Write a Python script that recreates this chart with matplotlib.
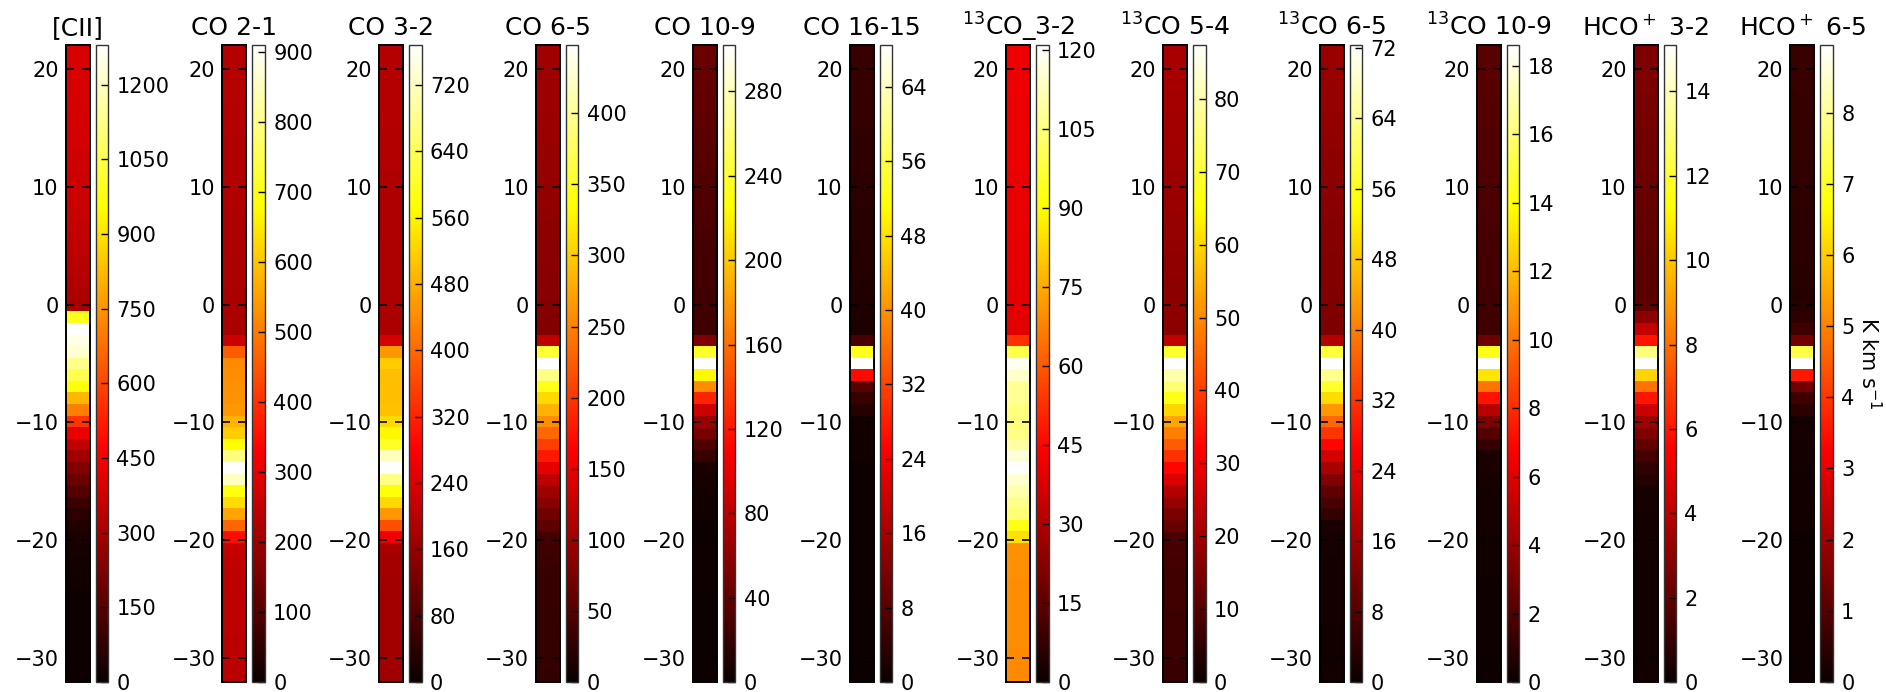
import numpy as np
import matplotlib
matplotlib.use('Agg')
import matplotlib.pyplot as plt
from matplotlib.ticker import MultipleLocator

# --- Data: integrated intensity per velocity channel (top = +22 km/s, bottom = -32 km/s) ---
VELOCITY = np.arange(22, -33, -1)

LINES = ['[CII]', 'CO 2-1', 'CO 3-2', 'CO 6-5', 'CO 10-9', 'CO 16-15',
         '$^{13}$CO_3-2', '$^{13}$CO 5-4', '$^{13}$CO 6-5', '$^{13}$CO 10-9',
         'HCO$^+$ 3-2', 'HCO$^+$ 6-5']

CII = [390, 392, 395, 393, 390, 388, 385, 383, 380, 378, 375, 372, 370, 366, 362,
       358, 352, 345, 338, 330, 322, 312, 300,
       990, 1280, 1245, 1215, 1130, 1050, 965, 815, 710, 565, 425, 350, 285, 232, 188,
       140, 95, 65, 45, 32, 25, 20, 17, 15, 14, 13, 12, 12, 11, 11, 10, 10]

CO21 = [232, 233, 234, 235, 235, 234, 233, 232, 231, 230, 230, 229, 228, 228, 227,
        226, 225, 224, 223, 222, 221, 220, 220, 219, 218,
        265, 455, 520, 525, 528, 532, 540, 575, 610, 680, 790, 910, 850, 690, 630, 555, 470, 350,
        255, 250, 248, 246, 245, 244, 243, 242, 241, 240, 240, 239]

CO32 = [195, 196, 197, 197, 196, 195, 195, 194, 193, 193, 192, 191, 191, 190, 190,
        189, 189, 188, 188, 187, 187, 186, 186, 185, 185,
        235, 455, 515, 500, 500, 498, 502, 530, 565, 600, 715, 768, 675, 580, 530, 455, 370, 265,
        180, 178, 177, 176, 176, 175, 175, 174, 174, 173, 173, 172]

CO65 = [100, 100, 99, 99, 98, 98, 97, 97, 96, 95, 94, 93, 92, 91, 90,
        89, 88, 87, 86, 85, 84, 84, 83, 82, 82,
        122, 358, 448, 392, 345, 309, 283, 258, 233, 206, 180, 148, 122, 100, 84, 70, 57,
        40, 36, 34, 32, 31, 30, 30, 29, 29, 28, 28, 28, 27]

CO109 = [44, 43, 42, 41, 40, 39, 38, 37, 36, 35, 34, 33, 32, 31, 30,
         30, 29, 28, 27, 27, 26, 25, 25, 24, 24,
         53, 238, 302, 222, 174, 127, 88, 66, 50, 33, 22,
         8, 6, 5, 4, 4, 3, 3, 3, 3, 3, 3, 2, 2, 2, 2, 2, 2, 2, 2]

CO1615 = [4.9, 4.8, 4.7, 4.6, 4.5, 4.4, 4.3, 4.2, 4.0, 3.9, 3.8, 3.6, 3.5, 3.4, 3.2,
          3.1, 3.0, 2.9, 2.8, 2.7, 2.6, 2.5, 2.4, 2.3, 2.2,
          6.5, 53, 68.5, 26, 8.1, 5.0, 3.0,
          1.2, 1.0, 0.9, 0.9, 0.8, 0.8, 0.8, 0.7, 0.7, 0.7, 0.7, 0.6, 0.6, 0.6, 0.6, 0.6,
          0.5, 0.5, 0.5, 0.5, 0.5, 0.5, 0.5]

C13O32 = [41.5, 41.5, 41.4, 41.3, 41.2, 41.1, 41.0, 41.0, 40.9, 40.8, 40.7, 40.6, 40.5, 40.4, 40.3,
          40.2, 40.1, 40.0, 39.9, 39.8, 39.7, 39.6, 39.5, 39.4, 39.3,
          53, 99, 119, 114, 108, 108, 105, 105, 106, 110, 116, 121, 115, 111, 107, 104, 93, 85,
          70, 70, 70, 69.8, 69.8, 69.6, 69.6, 69.5, 69.5, 69.4, 69.4, 69.3]

C13O54 = [20.8, 20.7, 20.6, 20.5, 20.4, 20.2, 20.0, 19.9, 19.7, 19.5, 19.3, 19.1, 18.9, 18.7, 18.5,
          18.3, 18.1, 17.9, 17.7, 17.5, 17.4, 17.3, 17.2, 17.1, 17.0,
          24, 69, 87.4, 80, 75, 67, 60, 53.5, 48.5, 43.7, 38.5, 32.5, 27.5, 22.5, 18.2, 15, 12.5,
          8.5, 8.0, 7.6, 7.3, 7.1, 7.0, 6.9, 6.8, 6.7, 6.6, 6.5, 6.4, 6.3]

C13O65 = [15.6, 15.5, 15.4, 15.3, 15.2, 15.0, 14.9, 14.7, 14.6, 14.4, 14.3, 14.1, 14.0, 13.8, 13.7,
          13.5, 13.4, 13.3, 13.2, 13.1, 13.0, 12.9, 12.8, 12.7, 12.6,
          18.5, 58, 72.3, 64, 57, 50, 42.7, 37.6, 32, 27, 22, 17.5, 13, 9.5, 6.8, 4.8,
          1.8, 1.6, 1.5, 1.4, 1.3, 1.3, 1.2, 1.2, 1.2, 1.1, 1.1, 1.1, 1.0, 1.0]

C13O109 = [2.25, 2.22, 2.2, 2.17, 2.14, 2.1, 2.07, 2.03, 2.0, 1.97, 1.93, 1.9, 1.87, 1.83, 1.8,
           1.77, 1.73, 1.7, 1.67, 1.64, 1.61, 1.58, 1.55, 1.52, 1.5,
           2.8, 14.3, 18.6, 13.2, 10.0, 7.3, 4.8, 3.3, 2.1, 1.2,
           0.5, 0.45, 0.4, 0.35, 0.3, 0.3, 0.3, 0.25, 0.25, 0.25, 0.25, 0.2, 0.2, 0.2, 0.2,
           0.2, 0.2, 0.2, 0.2, 0.2]

HCO32 = [2.65, 2.62, 2.6, 2.56, 2.52, 2.48, 2.44, 2.4, 2.35, 2.3, 2.25, 2.2, 2.15, 2.1, 2.05,
         2.0, 1.96, 1.92, 1.88, 1.84, 1.8, 1.78,
         1.9, 3.0, 4.2, 5.9, 13.1, 15.1, 10.3, 8.1, 6.0, 4.4, 3.4, 2.6, 2.0, 1.3, 0.9, 0.6,
         0.35, 0.3, 0.28, 0.26, 0.25, 0.24, 0.23, 0.22, 0.22, 0.21, 0.21, 0.2, 0.2, 0.2,
         0.2, 0.2, 0.2]

HCO65 = [0.66, 0.65, 0.64, 0.63, 0.62, 0.61, 0.6, 0.59, 0.57, 0.56, 0.54, 0.53, 0.51, 0.5, 0.48,
         0.47, 0.45, 0.44, 0.42, 0.41, 0.4, 0.38,
         0.4, 0.5, 0.72, 1.4, 7.3, 8.95, 3.6, 1.4, 0.75, 0.42,
         0.2, 0.18, 0.16, 0.15, 0.14, 0.13, 0.12, 0.12, 0.11, 0.11, 0.1, 0.1, 0.1, 0.1, 0.1,
         0.1, 0.1, 0.1, 0.1, 0.1, 0.1, 0.1, 0.1]

SERIES = [CII, CO21, CO32, CO65, CO109, CO1615, C13O32, C13O54, C13O65, C13O109, HCO32, HCO65]
CBAR_STEP = [150, 100, 80, 50, 40, 8, 15, 10, 8, 2, 2, 1]

# --- Layout (figure pixels) ---
W, H = 1886, 692
X0, DX = 65.5, 156.8
IMG_W, CB_OFF, CB_W = 24.0, 30.0, 12.5
TOP, BOT = 45.0, 682.0

plt.rcParams['font.family'] = 'DejaVu Sans'
plt.rcParams['mathtext.fontset'] = 'dejavusans'

fig = plt.figure(figsize=(W / 100, H / 100), dpi=100)

for i, (name, vals) in enumerate(zip(LINES, SERIES)):
    vals = np.array(vals, dtype=float)
    left = X0 + DX * i
    ax = fig.add_axes([left / W, 1 - BOT / H, IMG_W / W, (BOT - TOP) / H])
    cax = fig.add_axes([(left + CB_OFF) / W, 1 - BOT / H, CB_W / W, (BOT - TOP) / H])

    im = ax.imshow(vals[:, None], cmap='hot', vmin=0, vmax=vals.max(), aspect='auto',
                   interpolation='nearest', origin='upper',
                   extent=(0, 1, VELOCITY[-1], VELOCITY[0]))
    ax.set_xticks([])
    ax.yaxis.set_major_locator(MultipleLocator(10))
    ax.tick_params(axis='y', direction='in', left=True, right=True, length=6, width=1.2,
                   labelsize=15, pad=5)
    for sp in ax.spines.values():
        sp.set_linewidth(1.4)
    ax.set_title(name, fontsize=18, pad=7)

    cb = fig.colorbar(im, cax=cax, ticks=np.arange(0, vals.max(), CBAR_STEP[i]))
    cb.ax.tick_params(direction='in', length=5, width=1, labelsize=15, pad=6)
    cb.outline.set_linewidth(1.0)
    cb.outline.set_edgecolor('0.2')
    if i == len(LINES) - 1:
        cb.set_label('K km s$^{-1}$', rotation=270, fontsize=15, labelpad=20)

fig.savefig('out.png', dpi=100)
